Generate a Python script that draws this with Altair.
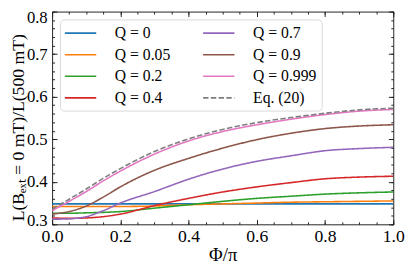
import altair as alt
import pandas as pd

phi = [0.0, 0.05, 0.1, 0.15, 0.2, 0.3, 0.4, 0.5, 0.6, 0.7, 0.8, 0.9, 1.0]

q_000 = [0.348, 0.348, 0.348, 0.348, 0.348, 0.348, 0.348, 0.348, 0.348, 0.348, 0.348, 0.348, 0.348]
q_005 = [0.342, 0.342, 0.342, 0.342, 0.342, 0.343, 0.346, 0.348, 0.350, 0.352, 0.353, 0.354, 0.355]
q_020 = [0.326, 0.326, 0.327, 0.328, 0.330, 0.338, 0.346, 0.354, 0.361, 0.366, 0.371, 0.374, 0.376]
q_040 = [0.315, 0.314, 0.315, 0.318, 0.324, 0.344, 0.361, 0.376, 0.388, 0.398, 0.407, 0.411, 0.413]
q_070 = [0.312, 0.313, 0.318, 0.332, 0.350, 0.377, 0.406, 0.430, 0.448, 0.461, 0.473, 0.478, 0.481]
q_090 = [0.324, 0.330, 0.343, 0.364, 0.388, 0.427, 0.455, 0.479, 0.499, 0.514, 0.525, 0.531, 0.534]
q_0999 = [0.332, 0.354, 0.377, 0.402, 0.425, 0.465, 0.496, 0.518, 0.534, 0.547, 0.558, 0.566, 0.570]
eq_20 = [0.336, 0.359, 0.383, 0.408, 0.431, 0.471, 0.501, 0.523, 0.539, 0.551, 0.561, 0.569, 0.573]

labels = ["Q = 0", "Q = 0.05", "Q = 0.2", "Q = 0.4", "Q = 0.7", "Q = 0.9", "Q = 0.999", "Eq. (20)"]
series = [q_000, q_005, q_020, q_040, q_070, q_090, q_0999, eq_20]
colors = ["#1f77b4", "#ff7f0e", "#2ca02c", "#d62728", "#9467bd", "#8c564b", "#e377c2", "#7f7f7f"]

x_major = [0.0, 0.2, 0.4, 0.6, 0.8, 1.0]
y_major = [0.3, 0.4, 0.5, 0.6, 0.7, 0.8]
x_minor = [round(0.05 * i, 2) for i in range(21)]
y_minor = [round(0.3 + 0.02 * i, 2) for i in range(26)]

rows = []
for lab, vals in zip(labels, series):
    for p, v in zip(phi, vals):
        rows.append({"phi": p, "val": v, "series": lab})
df = pd.DataFrame(rows)

dash_range = [[5.5, 2.4] if l == "Eq. (20)" else [1, 0] for l in labels]
width_range = [1.9 if l == "Eq. (20)" else 1.6 for l in labels]

FONT = "Liberation Serif"
xs = alt.Scale(domain=[0, 1], nice=False, zero=False)
ys = alt.Scale(domain=[0.3, 0.8], nice=False, zero=False)

leg = alt.Legend(
    title=None, orient="none", legendX=8, legendY=8, columns=2,
    symbolType="M-2,0H2", symbolSize=256, symbolStrokeWidth=1.8, symbolOffset=7,
    labelFont=FONT, labelFontSize=16, labelColor="black", labelOffset=26,
    columnPadding=29, rowPadding=5, padding=5,
    strokeColor="#d9d9d9", fillColor="white", cornerRadius=4,
)

lines = alt.Chart(df).mark_line(interpolate="monotone", clip=True).encode(
    x=alt.X("phi:Q", scale=xs, axis=alt.Axis(
        orient="bottom", values=x_major, format=".1f", labelFlush=False,
        ticks=False, domain=False, grid=False,
        labelFont=FONT, labelFontSize=18, labelColor="black", labelPadding=4,
        title="Φ/π", titleFont=FONT, titleFontSize=19, titleFontWeight="normal",
        titleColor="black", titleY=31, titleBaseline="middle")),
    y=alt.Y("val:Q", scale=ys, axis=alt.Axis(
        orient="left", values=y_major, format=".1f", labelFlush=False,
        ticks=False, domain=False, grid=False,
        labelFont=FONT, labelFontSize=17, labelColor="black", labelPadding=5,
        labelOffset={"condition": [{"test": "datum.value > 0.79", "value": 6},
                                   {"test": "datum.value < 0.31", "value": -4}],
                     "value": 0},
        title="L(Bₑₓₜ = 0 mT)/L(500 mT)", titleFont=FONT, titleFontSize=18,
        titleFontWeight="normal", titleColor="black",
        titleX=-34, titleY=118, titleBaseline="middle")),
    color=alt.Color("series:N", scale=alt.Scale(domain=labels, range=colors), legend=leg),
    strokeDash=alt.StrokeDash("series:N", scale=alt.Scale(domain=labels, range=dash_range), legend=leg),
    strokeWidth=alt.StrokeWidth("series:N", scale=alt.Scale(domain=labels, range=width_range), legend=None),
)


def tick_layer(orient_x, orient_y, xv, yv, size):
    xa = alt.Axis(orient=orient_x, values=xv, labels=False, domain=False, grid=False,
                  ticks=True, tickSize=size, offset=-size, tickColor="#222", tickWidth=1, title=None)
    ya = alt.Axis(orient=orient_y, values=yv, labels=False, domain=False, grid=False,
                  ticks=True, tickSize=size, offset=-size, tickColor="#222", tickWidth=1, title=None)
    return alt.Chart(df).mark_point(opacity=0).encode(
        x=alt.X("phi:Q", scale=xs, axis=xa),
        y=alt.Y("val:Q", scale=ys, axis=ya),
    )


chart = alt.layer(
    lines,
    tick_layer("bottom", "left", x_major, y_major, 5),
    tick_layer("top", "right", x_major, y_major, 5),
    tick_layer("bottom", "left", x_minor, y_minor, 2.5),
    tick_layer("top", "right", x_minor, y_minor, 2.5),
).resolve_axis(x="independent", y="independent").properties(
    width=348, height=217,
    padding={"left": 45, "top": 1, "right": 14, "bottom": 47},
    autosize=alt.AutoSizeParams(type="none"),
).configure(font=FONT).configure_view(stroke="#222", strokeWidth=1)

chart.save("out.html", embed_options={"renderer": "svg", "actions": False})
